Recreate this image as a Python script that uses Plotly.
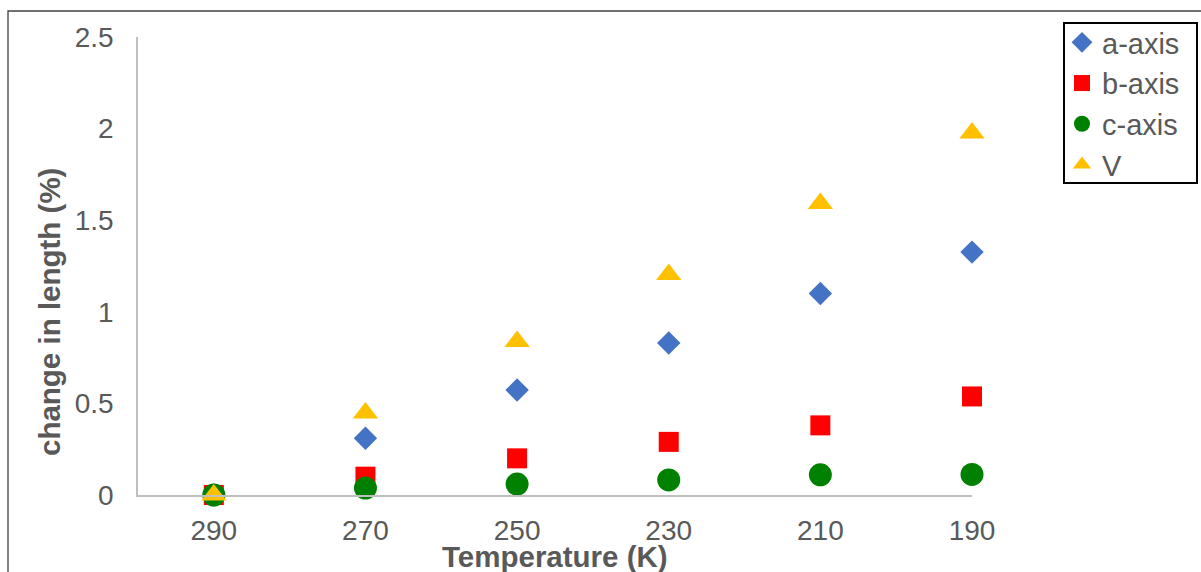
import plotly.graph_objects as go

# Temperature points (K) and percentage change relative to 290 K
temperature = [290, 270, 250, 230, 210, 190]
a_axis = [0.0, 0.31, 0.573, 0.83, 1.10, 1.326]
b_axis = [0.0, 0.10, 0.20, 0.29, 0.38, 0.538]
c_axis = [0.0, 0.038, 0.06, 0.082, 0.11, 0.112]
volume = [0.0, 0.448, 0.838, 1.204, 1.591, 1.976]

x_ticks = [290, 270, 250, 230, 210, 190]
y_ticks = [0, 0.5, 1, 1.5, 2, 2.5]
y_tick_text = ["0", "0.5", "1", "1.5", "2", "2.5"]

W, H = 1201, 572
L, R, T, B = 138, 972, 37, 495  # plot area in pixels

def px_x(p):
    return (p - L) / (R - L)

def px_y(p):
    return (B - p) / (B - T)

FONT = "Liberation Sans, Arial, sans-serif"
GREY = "#595959"

series = [
    ("a-axis", a_axis, "diamond", 18, "#4472C4"),
    ("b-axis", b_axis, "square", 20, "#FF0000"),
    ("c-axis", c_axis, "circle", 23, "#008000"),
    ("V", volume, "triangle-up", 22, "#FFC000"),
]

fig = go.Figure()
for name, vals, sym, size, col in series:
    fig.add_trace(go.Scatter(
        x=temperature, y=vals, mode="markers", name=name,
        marker=dict(symbol=sym, size=size, color=col, line=dict(width=0)),
        cliponaxis=False,
    ))

fig.update_layout(
    width=W, height=H,
    margin=dict(l=L, r=W - R, t=T, b=H - B, pad=0),
    paper_bgcolor="white", plot_bgcolor="white",
    font=dict(family=FONT, size=28, color=GREY),
    showlegend=True,
    legend=dict(
        x=px_x(1062), y=px_y(17), xanchor="left", yanchor="top",
        borderwidth=0, bgcolor="rgba(0,0,0,0)",
        font=dict(family=FONT, size=29, color=GREY),
        tracegroupgap=0, itemsizing="trace",
    ),
    xaxis=dict(
        range=[300, 190], tickvals=x_ticks, ticktext=[str(t) for t in x_ticks],
        showgrid=False, zeroline=False, showline=True, linecolor="#BFBFBF",
        linewidth=1.5, ticks="", ticklabelstandoff=10,
        tickfont=dict(family=FONT, size=28, color=GREY),
    ),
    yaxis=dict(
        range=[0, 2.5], tickvals=y_ticks, ticktext=y_tick_text,
        showgrid=False, zeroline=False, showline=True, linecolor="#BFBFBF",
        linewidth=1.5, ticks="", ticklabelstandoff=17,
        tickfont=dict(family=FONT, size=28, color=GREY),
    ),
    annotations=[
        dict(text="<b>change in length (%)</b>", xref="paper", yref="paper",
             x=px_x(49), y=px_y(312), xanchor="center", yanchor="middle",
             textangle=-90, showarrow=False,
             font=dict(family=FONT, size=29.5, color=GREY)),
        dict(text="<b>Temperature (K)</b>", xref="paper", yref="paper",
             x=0.5, y=px_y(556), xanchor="center", yanchor="middle",
             showarrow=False, font=dict(family=FONT, size=29.5, color=GREY)),
    ],
    shapes=[
        # outer chart frame
        dict(type="rect", xref="paper", yref="paper",
             x0=px_x(8), x1=px_x(1260), y0=px_y(640), y1=px_y(11),
             line=dict(color="#404040", width=1.3), fillcolor="rgba(0,0,0,0)",
             layer="below"),
        # legend frame
        dict(type="rect", xref="paper", yref="paper",
             x0=px_x(1064), x1=px_x(1197), y0=px_y(183), y1=px_y(23),
             line=dict(color="black", width=2), fillcolor="rgba(0,0,0,0)",
             layer="above"),
    ],
)

fig.write_html("out.html")
